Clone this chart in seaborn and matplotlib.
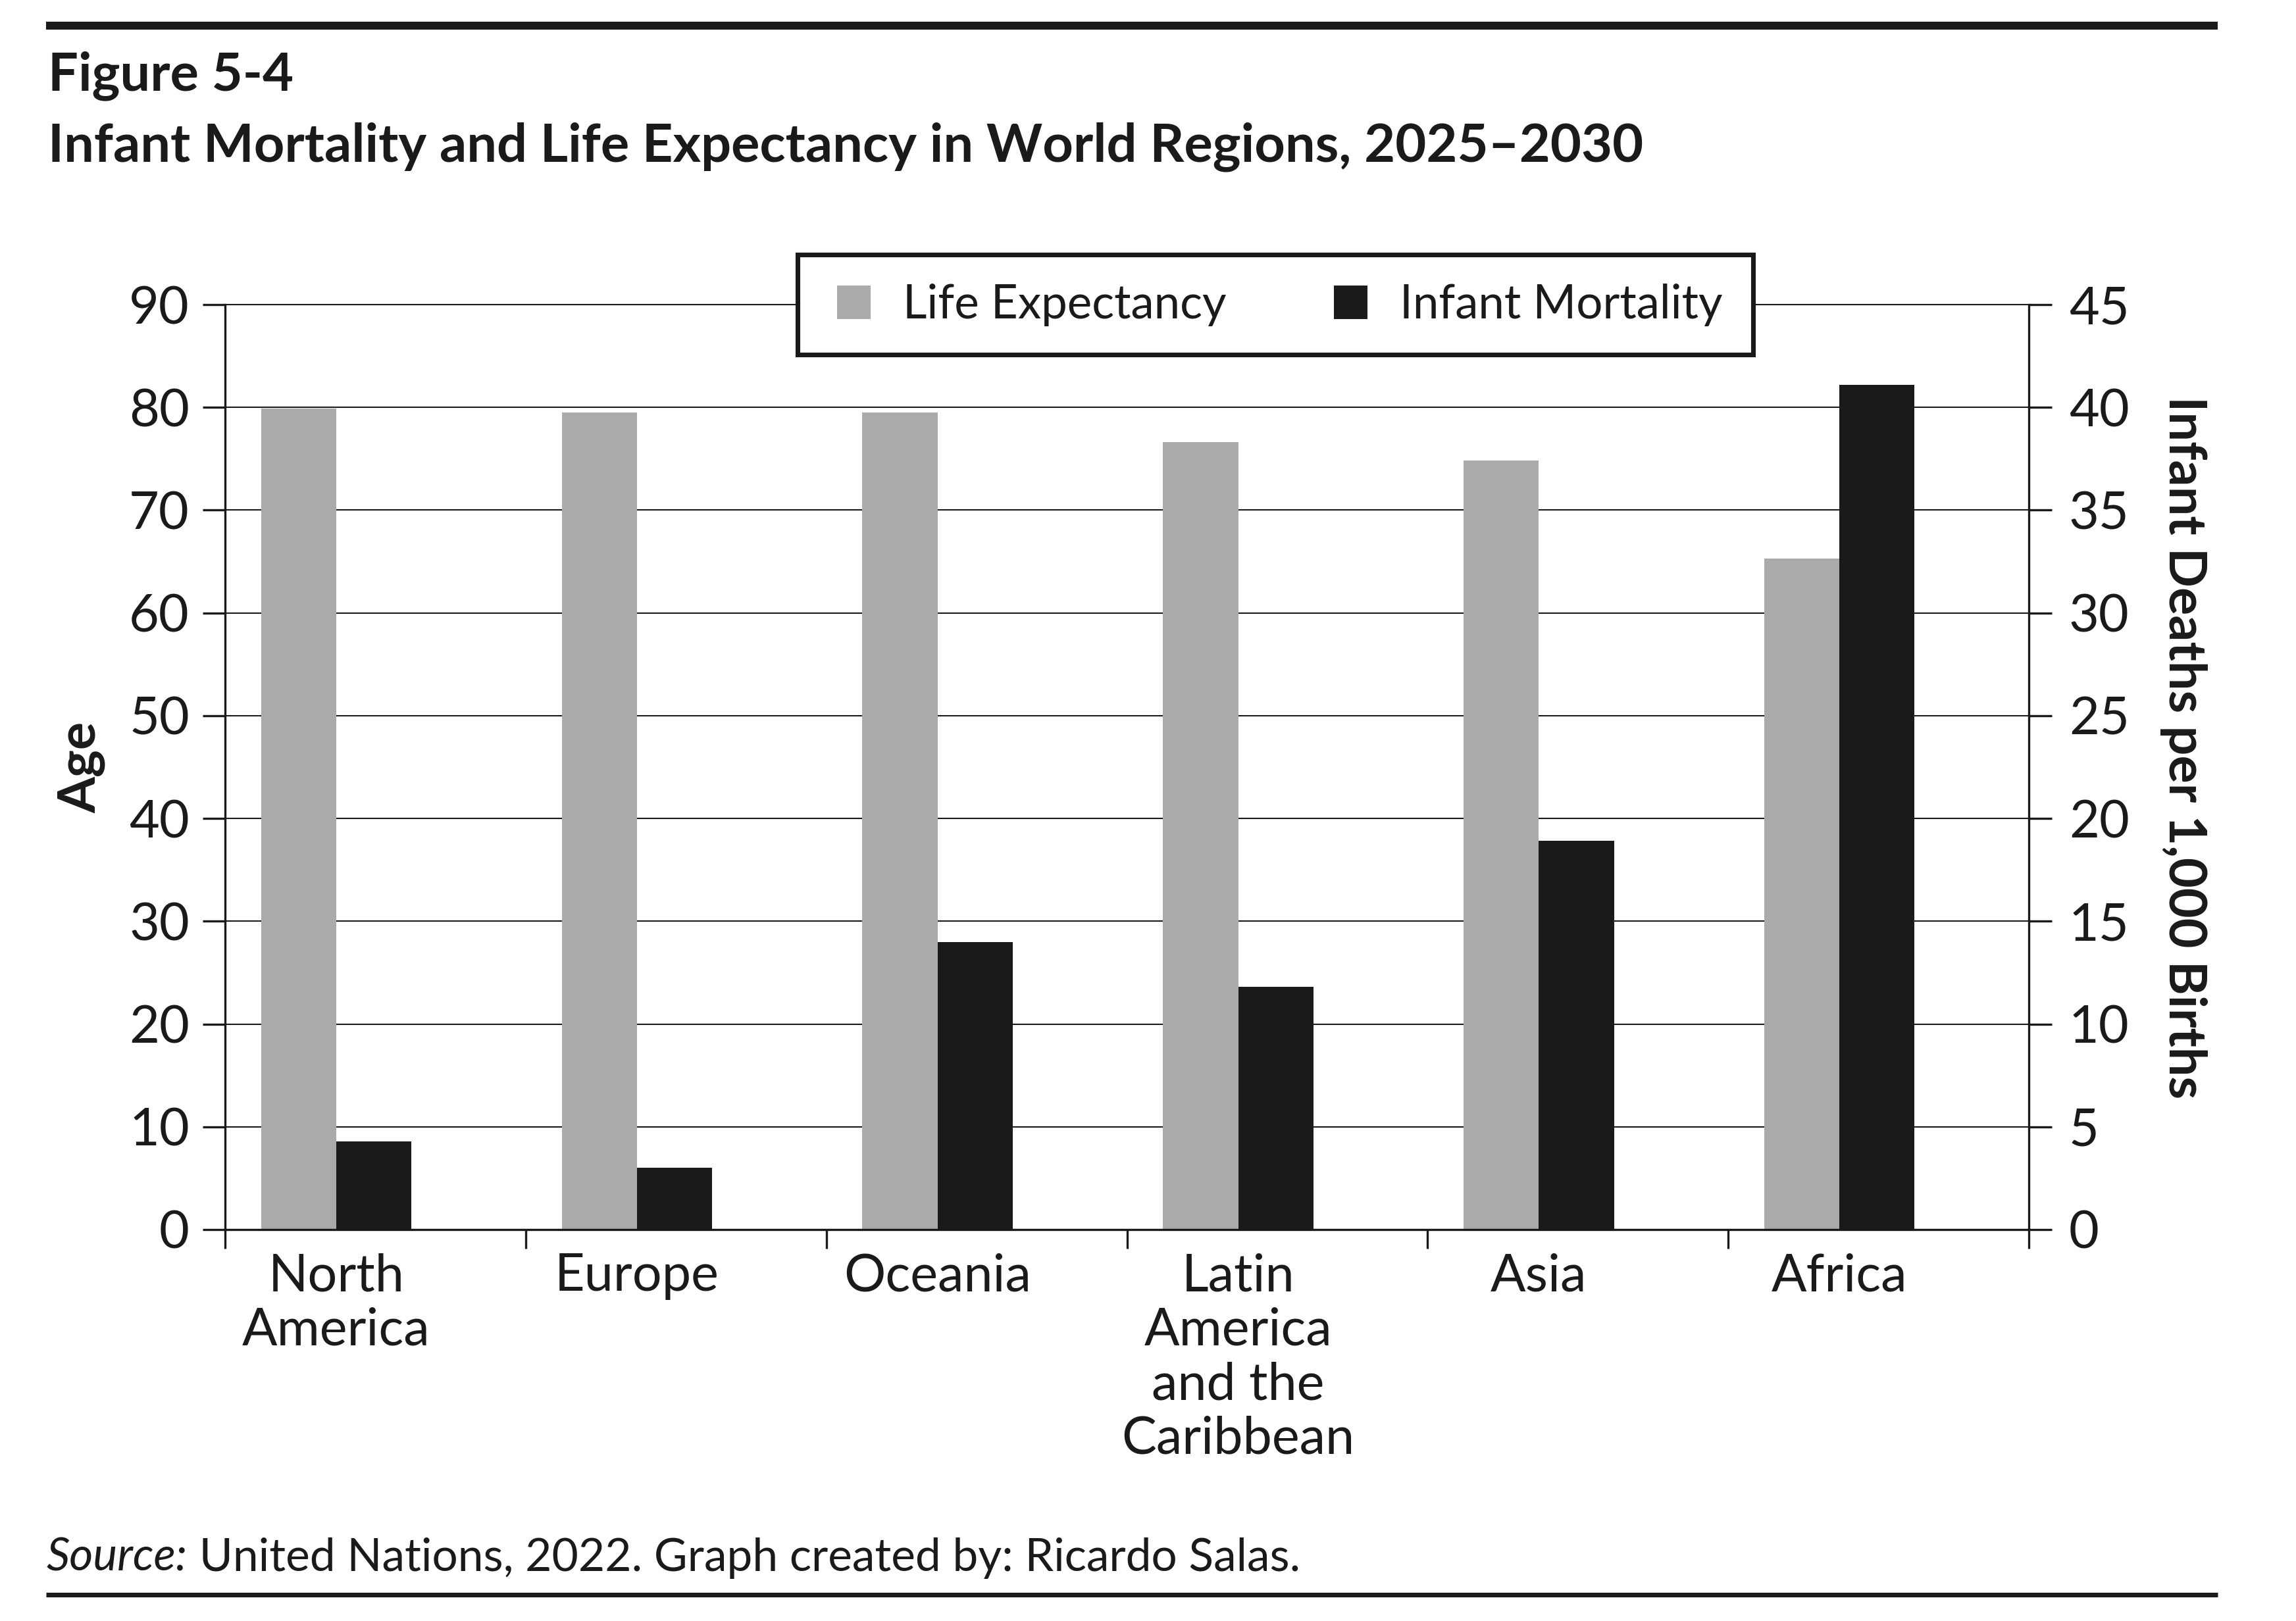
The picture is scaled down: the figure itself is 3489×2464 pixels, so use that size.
import numpy as np
import pandas as pd
import matplotlib
matplotlib.use("Agg")
import matplotlib.pyplot as plt
from matplotlib.patches import Patch, Rectangle
from matplotlib.lines import Line2D
import seaborn as sns

# ---------------- data ----------------
regions = ["North\nAmerica", "Europe", "Oceania",
           "Latin\nAmerica\nand the\nCaribbean", "Asia", "Africa"]
life_expectancy = [79.9, 79.5, 79.5, 76.6, 74.8, 65.3]     # years (left axis)
infant_mortality = [4.3, 3.0, 14.0, 11.8, 18.9, 41.1]      # per 1,000 births (right axis)
series_names = ["Life Expectancy", "Infant Mortality"]
age_ticks = list(range(0, 91, 10))
im_ticks = list(range(0, 46, 5))
fig_label = "Figure 5-4"
title = "Infant Mortality and Life Expectancy in World Regions, 2025\u20132030"
source_lead = "Source:"
source_rest = " United Nations, 2022. Graph created by: Ricardo Salas."

# ---------------- style ----------------
GRAY = "#aaaaaa"
BLACK = "#1a1a1a"
sns.set_style("ticks")
plt.rcParams["font.family"] = ["Lato", "DejaVu Sans"]
plt.rcParams["text.color"] = BLACK
plt.rcParams["axes.edgecolor"] = BLACK
plt.rcParams["xtick.color"] = BLACK
plt.rcParams["ytick.color"] = BLACK
plt.rcParams["axes.labelcolor"] = BLACK

W, H, DPI = 3489, 2464, 300
fig = plt.figure(figsize=(W / DPI, H / DPI), dpi=DPI)
fig.patch.set_facecolor("white")

L, R, T, B = 342, 3083, 463, 1869
ax1 = fig.add_axes([L / W, 1 - B / H, (R - L) / W, (B - T) / H])
ax2 = ax1.twinx()

n = len(regions)
idx = np.arange(n)
bar_w = 0.25
df = pd.DataFrame({
    "region": regions,
    "pos_le": idx - bar_w / 2,
    "pos_im": idx + bar_w / 2,
    "life": life_expectancy,
    "infant": infant_mortality,
})

sns.barplot(data=df, x="pos_le", y="life", native_scale=True, orient="x",
            width=bar_w, color=GRAY, saturation=1, errorbar=None,
            linewidth=0, ax=ax1)
sns.barplot(data=df, x="pos_im", y="infant", native_scale=True, orient="x",
            width=bar_w, color=BLACK, saturation=1, errorbar=None,
            linewidth=0, ax=ax2)

shift = 0.37
ax1.set_xlim(-shift, n - shift)
ax1.set_ylim(0, 90)
ax2.set_ylim(0, 45)
ax1.set_yticks(age_ticks)
ax2.set_yticks(im_ticks)
ax1.set_xticks(np.arange(n + 1) - shift, labels=[""] * (n + 1))
ax1.set_xticks(idx, labels=regions, minor=True)

FS = 19
ax1.tick_params(axis="x", which="minor", length=0, pad=8.5, labelsize=FS)
ax1.tick_params(axis="x", which="major", length=7, width=0.8, direction="out")
ax1.tick_params(axis="y", length=8.2, width=0.8, pad=4.8, labelsize=FS, direction="out")
ax2.tick_params(axis="y", length=8.4, width=0.8, pad=6.2, labelsize=FS, direction="out")
for lab in ax1.get_xticklabels(minor=True):
    lab.set_linespacing(1.18)

ax1.grid(axis="y", color=BLACK, linewidth=0.5)
ax1.grid(axis="x", visible=False)
ax2.grid(False)
ax1.set_axisbelow(True)
for gl in ax1.get_ygridlines():
    gl.set_clip_on(False)

for s in ["top", "right"]:
    ax1.spines[s].set_visible(False)
for s in ["top", "left", "bottom"]:
    ax2.spines[s].set_visible(False)
for ax in (ax1, ax2):
    for s in ax.spines.values():
        s.set_linewidth(0.8)
        s.set_color(BLACK)

ax1.set_xlabel("")
ax2.set_xlabel("")
ax1.set_ylabel("Age", fontsize=FS, fontweight="bold")
ax1.yaxis.set_label_coords(-0.0664, 0.5)
ax2.set_ylabel("Infant Deaths per 1,000 Births", fontsize=FS, fontweight="bold",
               rotation=270, va="bottom")
ax2.yaxis.set_label_coords(1.0726, 0.521)

# legend with a heavy frame
frame = Rectangle((1211.5 / W, 1 - 538.5 / H), 1452 / W, 151.5 / H,
                  transform=fig.transFigure, facecolor="white",
                  edgecolor=BLACK, linewidth=1.7, zorder=3)
fig.add_artist(frame)
handles = [Patch(facecolor=GRAY, edgecolor="none", label=series_names[0]),
           Patch(facecolor=BLACK, edgecolor="none", label=series_names[1])]
LFS = 17
leg = fig.legend(handles=handles, loc="center left",
                 bbox_to_anchor=(1272 / W, 1 - 464 / H), ncol=2, frameon=False,
                 fontsize=LFS, handlelength=51 / (LFS * DPI / 72),
                 handleheight=52 / (LFS * DPI / 72),
                 handletextpad=49 / (LFS * DPI / 72),
                 columnspacing=163 / (LFS * DPI / 72), borderpad=0,
                 borderaxespad=0)
leg.set_zorder(5)

# header / footer
fig.add_artist(Line2D([70 / W, 3370 / W], [1 - 38.6 / H] * 2, transform=fig.transFigure,
                      color=BLACK, linewidth=2.9, solid_capstyle="butt"))
fig.add_artist(Line2D([70 / W, 3370 / W], [1 - 2424 / H] * 2, transform=fig.transFigure,
                      color=BLACK, linewidth=1.7, solid_capstyle="butt"))
fig.text(73 / W, 1 - 137 / H, fig_label, fontsize=19.5, fontweight="bold", va="baseline")
fig.text(73 / W, 1 - 245 / H, title, fontsize=19.5, fontweight="bold", va="baseline")
t1 = fig.text(71 / W, 1 - 2388 / H, source_lead, fontsize=16.7, fontstyle="italic",
              va="baseline")
ax1.annotate(source_rest, xy=(1, 0), xycoords=t1, va="bottom", ha="left",
             fontsize=16.7, annotation_clip=False)

fig.savefig("out.png", dpi=DPI)
